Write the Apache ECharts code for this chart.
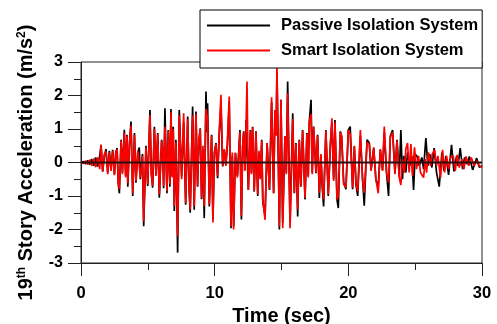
<!DOCTYPE html>
<html>
<head>
<meta charset="utf-8">
<script src="https://cdn.jsdelivr.net/npm/echarts@6/dist/echarts.min.js"></script>
<style>html,body{margin:0;padding:0;background:#fff}#c{width:497px;height:324px}</style>
</head>
<body>
<div id="c"></div>
<script>
// Time (sec), acceleration (m/s^2) pairs
var passiveData = [
[0,0],[0.2,0.03],[0.35,-0.04],[0.5,0.06],[0.65,-0.06],[0.8,0.1],[0.95,-0.1],[1.1,0.15],[1.25,-0.12],[1.4,0.2],
[1.5,0.53],[1.62,-0.27],[1.75,0.2],[1.87,0.4],[2.0,-0.3],[2.12,0.35],[2.25,-0.2],[2.37,0.38],[2.5,-0.35],[2.6,0.3],
[2.7,0.43],[2.79,-0.65],[2.87,-0.92],[3.0,0.68],[3.1,-0.3],[3.24,0.98],[3.34,-0.4],[3.44,0.83],[3.5,-0.72],[3.62,0.5],
[3.74,1.22],[3.87,-1.0],[4.0,0.88],[4.11,-0.6],[4.25,0.3],[4.36,0.45],[4.44,-0.5],[4.6,0.25],[4.69,-1.9],[4.86,0.5],
[4.99,-0.7],[5.16,1.57],[5.26,-0.3],[5.36,-0.75],[5.49,1.07],[5.61,-0.37],[5.74,0.88],[5.86,-1.05],[6.03,0.68],[6.12,0.3],
[6.18,-0.77],[6.28,1.62],[6.43,-0.92],[6.53,0.97],[6.65,-0.72],[6.73,1.6],[6.82,-0.4],[6.9,1.07],[6.98,-1.45],[7.1,0.68],
[7.23,-2.69],[7.35,1.57],[7.53,-0.42],[7.68,1.2],[7.83,-1.26],[7.98,1.37],[8.1,-0.92],[8.17,-1.5],[8.35,1.67],[8.47,-1.41],
[8.6,1.52],[8.72,-0.72],[8.82,0.6],[8.92,1.02],[9.02,-1.1],[9.12,0.4],[9.22,-1.66],[9.35,2.12],[9.42,0.9],[9.47,1.77],
[9.6,-1.31],[9.77,0.83],[9.87,-1.7],[9.98,0.3],[10.1,0.58],[10.22,-0.47],[10.35,0.9],[10.47,1.7],[10.6,-0.12],[10.72,0.38],
[10.84,-0.05],[10.95,0.5],[11.09,1.8],[11.22,-1.96],[11.32,0.2],[11.42,-1.9],[11.55,0.28],[11.7,-0.4],[11.89,0.97],[12.0,-1.7],
[12.1,0.5],[12.17,0.93],[12.27,-0.22],[12.35,1.27],[12.52,-0.82],[12.67,0.97],[12.75,-0.3],[12.84,1.07],[12.96,-0.87],[13.09,0.93],
[13.22,-1.0],[13.32,0.3],[13.42,-0.47],[13.52,0.68],[13.6,-1.16],[13.77,-1.6],[13.92,0.58],[14.1,-0.82],[14.26,1.8],[14.41,-0.92],
[14.51,1.57],[14.6,0.9],[14.66,2.7],[14.84,-2.0],[14.96,1.87],[15.09,-1.8],[15.26,0.78],[15.36,-0.3],[15.46,2.42],[15.64,-1.8],
[15.84,1.47],[15.96,-0.92],[16.08,0.58],[16.21,-1.61],[16.33,0.68],[16.45,-0.72],[16.58,0.97],[16.76,-1.1],[16.9,0.88],[17.0,-0.4],
[17.08,1.22],[17.21,1.87],[17.3,-0.3],[17.4,1.07],[17.58,-0.32],[17.7,0.83],[17.83,-1.06],[17.95,0.2],[18.05,-0.72],[18.15,-1.31],
[18.32,0.97],[18.5,-1.0],[18.65,0.48],[18.77,1.2],[18.9,-0.5],[19.0,1.27],[19.15,-1.1],[19.25,-1.36],[19.4,0.93],[19.5,0.78],
[19.65,-0.6],[19.82,-0.8],[20.0,0.97],[20.14,1.07],[20.32,-0.8],[20.45,0.48],[20.57,-0.65],[20.7,-1.0],[20.9,0.8],[21.07,-0.52],
[21.19,-1.29],[21.4,0.68],[21.57,0.58],[21.7,-0.22],[21.9,0.43],[22.06,-0.52],[22.24,-0.7],[22.39,0.38],[22.56,-0.22],[22.69,0.9],
[22.86,-0.32],[23.01,-1.0],[23.14,0.78],[23.31,0.97],[23.49,-0.32],[23.64,0.68],[23.81,-0.42],[23.93,0.97],[24.05,-0.5],[24.15,0.2],
[24.3,-0.3],[24.43,0.3],[24.6,-0.1],[24.75,0.2],[24.88,-0.82],[25.0,0.25],[25.15,0.18],[25.3,-0.1],[25.5,0.15],[25.63,-0.2],
[25.8,0.73],[25.95,-0.1],[26.1,0.25],[26.25,-0.15],[26.42,0.43],[26.6,-0.3],[26.8,-0.72],[27.0,0.3],[27.15,-0.25],[27.3,0.2],
[27.5,-0.37],[27.72,0.53],[27.9,-0.27],[28.1,0.2],[28.2,-0.1],[28.37,0.43],[28.55,-0.2],[28.7,0.15],[28.9,-0.05],[29.05,0.18],
[29.3,-0.22],[29.6,0.13],[29.8,-0.14],[30.0,-0.1]
];
var smartData = [
[0,0],[0.2,-0.03],[0.35,0.05],[0.5,-0.06],[0.65,0.08],[0.8,-0.1],[0.95,0.12],[1.1,-0.14],[1.25,0.15],[1.4,-0.2],
[1.5,0.53],[1.62,-0.27],[1.75,0.25],[1.87,0.33],[2.0,-0.35],[2.12,0.3],[2.25,-0.25],[2.37,0.35],[2.5,-0.38],[2.6,0.25],
[2.7,0.4],[2.79,-0.6],[2.87,-0.8],[3.0,0.65],[3.1,-0.35],[3.24,0.88],[3.34,-0.45],[3.44,0.8],[3.5,-0.62],[3.62,0.55],
[3.74,1.1],[3.87,-0.92],[4.0,0.82],[4.11,-0.55],[4.25,0.35],[4.36,0.4],[4.44,-0.45],[4.6,0.2],[4.69,-1.75],[4.86,0.45],
[4.99,-0.65],[5.16,1.42],[5.26,-0.35],[5.36,-0.7],[5.49,1.0],[5.61,-0.4],[5.74,0.85],[5.86,-0.95],[6.03,0.65],[6.12,0.35],
[6.18,-0.7],[6.28,1.07],[6.43,-0.85],[6.53,0.95],[6.65,-0.65],[6.73,1.5],[6.82,-0.45],[6.9,1.0],[6.98,-1.3],[7.1,0.6],
[7.23,-2.2],[7.35,1.4],[7.53,-0.5],[7.68,1.47],[7.83,-1.2],[7.98,1.3],[8.1,-0.85],[8.17,-1.4],[8.35,1.4],[8.47,-1.3],
[8.6,1.45],[8.72,-0.7],[8.82,0.7],[8.92,1.0],[9.02,-1.05],[9.12,0.5],[9.22,-1.3],[9.35,1.6],[9.47,1.3],[9.6,-1.25],
[9.77,0.8],[9.87,-1.79],[9.98,0.25],[10.1,0.55],[10.22,-0.4],[10.35,1.0],[10.47,2.02],[10.6,-0.1],[10.72,0.4],[10.84,-0.1],
[10.95,0.6],[11.09,1.97],[11.22,-1.9],[11.32,0.3],[11.42,-2.0],[11.55,0.3],[11.7,-0.45],[11.89,0.9],[12.0,-1.6],[12.1,0.5],
[12.17,0.9],[12.27,-0.25],[12.42,2.42],[12.52,-0.82],[12.67,0.95],[12.75,-0.35],[12.84,1.05],[12.96,-0.85],[13.09,0.9],[13.22,-0.95],
[13.32,0.35],[13.42,-0.5],[13.52,0.65],[13.6,-1.1],[13.77,-1.71],[13.92,0.58],[14.1,-0.8],[14.26,1.95],[14.41,-0.92],[14.51,1.57],
[14.6,0.8],[14.66,2.92],[14.84,-1.9],[14.96,1.87],[15.09,-1.96],[15.26,0.78],[15.36,-0.35],[15.46,2.07],[15.64,-1.96],[15.84,1.3],
[15.96,-0.9],[16.08,0.55],[16.21,-1.4],[16.33,0.65],[16.45,-0.7],[16.58,0.95],[16.76,-1.05],[16.9,0.85],[17.0,-0.45],[17.08,1.2],
[17.21,1.45],[17.3,-0.35],[17.4,1.07],[17.58,-0.3],[17.7,0.8],[17.83,-0.9],[17.95,0.25],[18.05,-0.72],[18.15,-1.1],[18.32,0.95],
[18.5,-0.95],[18.65,0.5],[18.77,1.32],[18.9,-0.55],[19.0,1.2],[19.15,-1.1],[19.25,-1.0],[19.4,0.9],[19.5,0.8],[19.65,-0.65],
[19.82,-0.75],[20.0,0.97],[20.14,0.85],[20.32,-0.75],[20.45,0.5],[20.57,-0.6],[20.7,-0.85],[20.9,0.97],[21.07,-0.55],[21.19,-0.9],
[21.4,0.6],[21.57,0.55],[21.7,-0.25],[21.9,0.45],[22.06,-0.5],[22.24,-0.92],[22.39,0.4],[22.56,-0.25],[22.69,1.07],[22.86,-0.3],
[23.01,-0.6],[23.14,0.75],[23.31,0.9],[23.49,-0.35],[23.64,0.65],[23.81,-0.45],[23.93,-0.67],[24.05,0.1],[24.2,-0.3],[24.3,0.4],
[24.43,0.58],[24.55,-0.3],[24.68,0.55],[24.8,-0.4],[24.95,0.45],[25.1,-0.2],[25.25,0.2],[25.4,-0.3],[25.63,-0.45],[25.75,0.1],
[25.85,-0.3],[26.0,0.3],[26.15,-0.1],[26.28,0.25],[26.45,0.38],[26.6,-0.1],[26.7,0.2],[26.9,-0.45],[27.05,0.38],[27.2,-0.3],
[27.35,0.2],[27.5,-0.2],[27.65,0.15],[27.85,0.2],[28.0,-0.25],[28.15,0.23],[28.3,-0.15],[28.5,0.1],[28.65,-0.2],[28.8,0.18],
[29.0,-0.1],[29.2,0.15],[29.4,-0.1],[29.6,0.05],[29.8,-0.1],[30.0,-0.15]
];
var seriesNames = ['Passive Isolation System', 'Smart Isolation System'];
var xTicks = [0, 30, 10];   // min, max, interval
var yTicks = [-3, 3, 1];

var FONT = "'Liberation Sans', Arial, sans-serif";
var chart = echarts.init(document.getElementById('c'), null, {renderer: 'canvas'});
chart.setOption({
  animation: false,
  backgroundColor: '#fff',
  grid: {left: 81, right: 15, top: 62, bottom: 61, containLabel: false, outerBoundsMode: 'none',
         show: true, borderColor: '#222', borderWidth: 1, backgroundColor: 'transparent'},
  legend: {
    data: seriesNames,
    orient: 'vertical',
    left: 200, top: 10,
    itemWidth: 63, itemHeight: 14, itemGap: 8,
    padding: [7, 4, 9, 6],
    itemStyle: {opacity: 0},
    backgroundColor: '#fff', borderColor: '#000', borderWidth: 1,
    textStyle: {fontFamily: FONT, fontWeight: 'bold', fontSize: 16.5, color: '#000', lineHeight: 14, padding: [0, 0, 0, 6]}
  },
  xAxis: {
    type: 'value', min: xTicks[0], max: xTicks[1], interval: xTicks[2],
    name: 'Time (sec)', nameLocation: 'middle', nameGap: 36,
    nameTextStyle: {fontFamily: FONT, fontWeight: 'bold', fontSize: 20, color: '#000'},
    axisLine: {show: true, onZero: false, lineStyle: {color: '#222', width: 1}},
    axisTick: {show: true, inside: false, length: 13, lineStyle: {color: '#222', width: 1}},
    minorTick: {show: true, splitNumber: 2, length: 7, lineStyle: {color: '#222', width: 1}},
    splitLine: {show: false},
    axisLabel: {margin: 22, fontFamily: FONT, fontWeight: 'bold', fontSize: 16.5, color: '#000'}
  },
  yAxis: {
    type: 'value', min: yTicks[0], max: yTicks[1], interval: yTicks[2],
    name: '19{sup|th} Story Acceleration (m/s{sup|2})', nameLocation: 'middle', nameGap: 39, nameRotate: 90,
    nameTextStyle: {fontFamily: FONT, fontWeight: 'bold', fontSize: 20, color: '#000', lineHeight: 22,
      rich: {sup: {fontFamily: FONT, fontWeight: 'bold', fontSize: 12, color: '#000', verticalAlign: 'top', lineHeight: 12}}},
    axisLine: {show: true, onZero: false, lineStyle: {color: '#222', width: 1}},
    axisTick: {show: true, inside: false, length: 13, lineStyle: {color: '#222', width: 1}},
    minorTick: {show: true, splitNumber: 2, length: 7, lineStyle: {color: '#222', width: 1}},
    splitLine: {show: false},
    axisLabel: {margin: 18, fontFamily: FONT, fontWeight: 'bold', fontSize: 16, color: '#000'}
  },
  series: [
    {name: seriesNames[0], type: 'line', data: passiveData, showSymbol: false, symbol: 'none',
     lineStyle: {color: '#000', width: 1.7}, itemStyle: {color: '#000'}, z: 2},
    {name: seriesNames[1], type: 'line', data: smartData, showSymbol: false, symbol: 'none',
     lineStyle: {color: '#ff0000', width: 1.7}, itemStyle: {color: '#ff0000'}, z: 3},
    {name: 'zero', type: 'line', data: [[xTicks[0], 0], [xTicks[1], 0]], showSymbol: false, symbol: 'none',
     lineStyle: {color: '#2a1010', width: 2}, z: 4, silent: true}
  ]
});
</script>
</body>
</html>
